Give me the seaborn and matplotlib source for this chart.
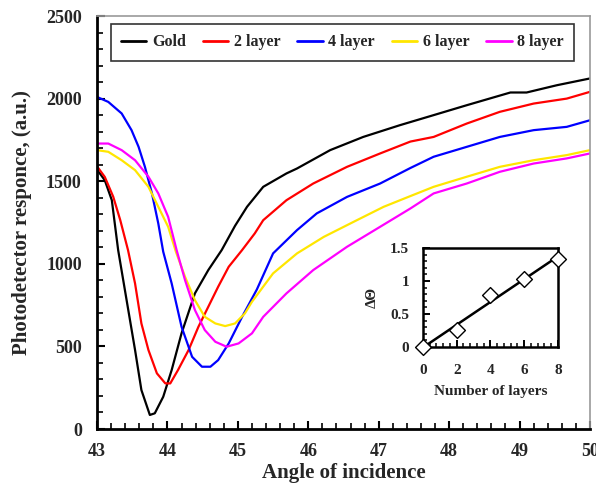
import numpy as np
import pandas as pd
import matplotlib
matplotlib.use("Agg")
import matplotlib.pyplot as plt
from matplotlib.ticker import MultipleLocator
import seaborn as sns

# SPR response curves (angle in degrees, photodetector signal in a.u.)
gold_x = [43.0, 43.11, 43.21, 43.30, 43.42, 43.54, 43.63, 43.75, 43.82, 43.94, 44.06, 44.20,
          44.39, 44.58, 44.77, 44.96, 45.13, 45.36, 45.69, 45.84, 46.31, 46.78, 47.30, 47.78,
          48.25, 48.87, 49.10, 49.53, 50.0]
gold_y = [1570, 1506, 1385, 1083, 780, 478, 236, 85, 95, 195, 357, 579,
          821, 962, 1083, 1230, 1345, 1466, 1547, 1577, 1688, 1768, 1839, 1900,
          1960, 2037, 2037, 2081, 2122]

layer2_x = [43.0, 43.11, 43.23, 43.33, 43.44, 43.54, 43.63, 43.73, 43.85, 43.97, 44.04, 44.15,
            44.30, 44.44, 44.58, 44.72, 44.87, 45.06, 45.24, 45.36, 45.69, 46.07, 46.55, 47.02,
            47.45, 47.78, 48.25, 48.72, 49.20, 49.67, 50.0]
layer2_y = [1590, 1526, 1406, 1264, 1083, 881, 639, 478, 337, 276, 276, 357,
            478, 619, 740, 861, 982, 1083, 1184, 1264, 1385, 1486, 1587, 1668,
            1740, 1768, 1849, 1920, 1970, 2000, 2041]

layer4_x = [43.0, 43.16, 43.35, 43.49, 43.59, 43.68, 43.78, 43.87, 43.94, 44.06, 44.20, 44.35,
            44.49, 44.61, 44.72, 44.87, 45.06, 45.27, 45.50, 45.84, 46.12, 46.55, 47.02, 47.45,
            47.78, 48.25, 48.72, 49.20, 49.67, 50.0]
layer4_y = [2010, 1980, 1910, 1809, 1708, 1587, 1426, 1244, 1073, 881, 619, 437,
            377, 377, 417, 518, 679, 845, 1063, 1204, 1305, 1405, 1486, 1580,
            1648, 1708, 1768, 1809, 1829, 1869]

layer6_x = [43.0, 43.16, 43.35, 43.54, 43.73, 43.87, 44.01, 44.12, 44.25, 44.39, 44.53, 44.68,
            44.82, 44.96, 45.10, 45.20, 45.50, 45.84, 46.22, 46.69, 47.07, 47.45, 47.78, 48.25,
            48.72, 49.20, 49.67, 50.0]
layer6_y = [1688, 1678, 1627, 1567, 1466, 1345, 1224, 1073, 921, 780, 679, 639,
            623, 639, 700, 770, 942, 1063, 1163, 1264, 1345, 1410, 1466, 1527,
            1587, 1627, 1658, 1688]

layer8_x = [43.0, 43.16, 43.35, 43.54, 43.73, 43.87, 44.01, 44.13, 44.25, 44.39, 44.53, 44.68,
            44.84, 45.01, 45.20, 45.36, 45.69, 46.07, 46.55, 47.02, 47.45, 47.78, 48.25, 48.72,
            49.20, 49.67, 50.0]
layer8_y = [1728, 1728, 1688, 1627, 1527, 1426, 1284, 1083, 901, 720, 599, 528,
            498, 518, 579, 679, 821, 962, 1103, 1224, 1335, 1426, 1486, 1557,
            1607, 1638, 1668]

series_names = ["Gold", "2 layer", "4 layer", "6 layer", "8 layer"]
series_colors = ["#000000", "#ff0000", "#0000ff", "#ffe600", "#ff00ff"]

# Resonance angle shift versus number of deposited layers
layers = [0, 2, 4, 6, 8]
shift = [0.0, 0.26, 0.78, 1.03, 1.34]

frames = []
for name, xs, ys in zip(series_names,
                        [gold_x, layer2_x, layer4_x, layer6_x, layer8_x],
                        [gold_y, layer2_y, layer4_y, layer6_y, layer8_y]):
    frames.append(pd.DataFrame({"angle": xs, "signal": ys, "sample": name}))
df = pd.concat(frames, ignore_index=True)

sns.set_theme(style="white")
plt.rcParams["font.family"] = ["Liberation Serif", "DejaVu Serif"]
plt.rcParams["font.weight"] = "bold"

fig = plt.figure(figsize=(5.96, 4.88), dpi=100)
ax = fig.add_axes([0.1628, 0.1209, 0.8271, 0.8463])

sns.lineplot(data=df, x="angle", y="signal", hue="sample", hue_order=series_names,
             palette=series_colors, estimator=None, sort=False, linewidth=1.6, ax=ax)

ax.set_xlim(43, 50)
ax.set_ylim(0, 2500)
ax.xaxis.set_major_locator(MultipleLocator(1))
ax.xaxis.set_minor_locator(MultipleLocator(0.2))
ax.yaxis.set_major_locator(MultipleLocator(500))
ax.yaxis.set_minor_locator(MultipleLocator(100))
ax.tick_params(which="both", direction="in", color="black", left=True, bottom=True,
               labelsize=13)
ax.tick_params(axis="y", pad=11)
ax.tick_params(axis="x", pad=10)
ax.tick_params(which="major", length=6, width=1.5)
ax.tick_params(which="minor", length=4, width=1.2)
for lab in ax.get_xticklabels() + ax.get_yticklabels():
    lab.set_fontweight("bold")
for side in ("left", "bottom"):
    ax.spines[side].set_color("black")
    ax.spines[side].set_linewidth(2)
for side in ("top", "right"):
    ax.spines[side].set_color("#9a9a9a")
    ax.spines[side].set_linewidth(1.2)

ax.set_xlabel("Angle of incidence", fontsize=15, fontweight="bold", labelpad=2)
ax.set_ylabel("Photodetector responce, (a.u.)", fontsize=15, fontweight="bold", labelpad=10)

leg = ax.legend(loc="upper center", bbox_to_anchor=(0.498, 0.981), ncol=5, frameon=True,
                fancybox=False, edgecolor="black", handlelength=1.6, handletextpad=0.35,
                columnspacing=1.05, borderpad=0.65, borderaxespad=0.0,
                prop={"family": "Liberation Serif", "weight": "bold", "size": 11.5})
leg.get_frame().set_linewidth(1.2)
for line in leg.get_lines():
    line.set_linewidth(2)

# Inset: angle shift vs number of layers
ins = fig.add_axes([0.7097, 0.289, 0.2265, 0.2029])
sns.regplot(x=layers, y=shift, ci=None, scatter=False, truncate=True,
            line_kws={"color": "black", "linewidth": 1.8}, ax=ins)
sns.scatterplot(x=layers, y=shift, marker="D", s=65, facecolor="white",
                edgecolor="black", linewidth=1.0, zorder=4, clip_on=False, ax=ins)
ins.set_xlim(0, 8)
ins.set_ylim(0, 1.5)
ins.xaxis.set_major_locator(MultipleLocator(2))
ins.xaxis.set_minor_locator(MultipleLocator(0.4))
ins.yaxis.set_major_locator(MultipleLocator(0.5))
ins.yaxis.set_minor_locator(MultipleLocator(0.1))
ins.set_yticks([0, 0.5, 1, 1.5])
ins.set_yticklabels(["0", "0.5", "1", "1.5"])
ins.tick_params(which="both", direction="in", color="black", left=True, bottom=True,
                labelsize=11)
ins.tick_params(axis="y", pad=10)
ins.tick_params(axis="x", pad=12)
ins.tick_params(which="major", length=5, width=1.4)
ins.tick_params(which="minor", length=3, width=1.1)
for lab in ins.get_xticklabels() + ins.get_yticklabels():
    lab.set_fontweight("bold")
for sp in ins.spines.values():
    sp.set_color("black")
    sp.set_linewidth(1.8)
ins.set_xlabel("Number of layers", fontsize=11, fontweight="bold", labelpad=6)
ins.set_ylabel("ΔΘ", fontsize=11, fontweight="bold", labelpad=8)

fig.savefig("out.png", dpi=100)
